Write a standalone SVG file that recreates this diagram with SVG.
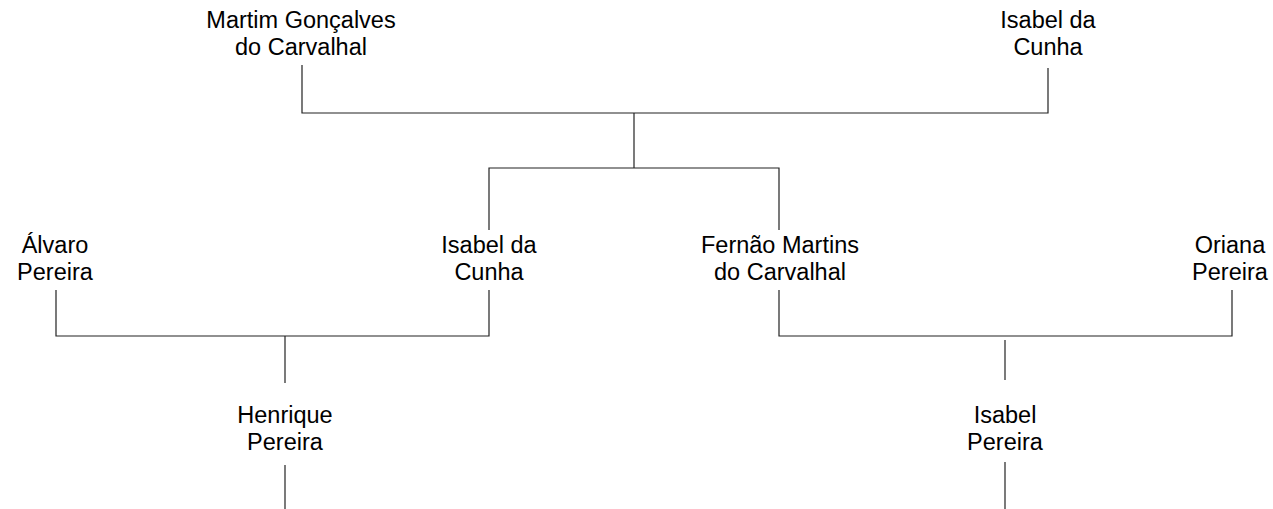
<svg xmlns="http://www.w3.org/2000/svg" width="1273" height="509" viewBox="0 0 1273 509">
<style>
text{font-family:"Liberation Sans",Arial,sans-serif;font-size:23.5px;fill:#000;text-anchor:middle}
.c path{fill:none;stroke:#222;stroke-width:1.2}
</style>
<rect width="1273" height="509" fill="#fff"/>
<g class="c" id="connectors">
<path d="M302 65V113H1048V68"/>
<path d="M634 113V168"/>
<path d="M489 230V168H779V230"/>
<path d="M56 290V336H489V290"/>
<path d="M285 336V383"/>
<path d="M779 290V336H1232V290"/>
<path d="M1005 340V380"/>
<path d="M285 465V509"/>
<path d="M1005 462V509"/>
</g>
<g id="martim"><text x="301" y="28">Martim Gonçalves</text><text x="301" y="55">do Carvalhal</text></g>
<g id="isabel1"><text x="1048" y="28">Isabel da</text><text x="1048" y="55">Cunha</text></g>
<g id="alvaro"><text x="55" y="253">Álvaro</text><text x="55" y="280">Pereira</text></g>
<g id="isabel2"><text x="489" y="253">Isabel da</text><text x="489" y="280">Cunha</text></g>
<g id="fernao"><text x="780" y="253">Fernão Martins</text><text x="780" y="280">do Carvalhal</text></g>
<g id="oriana"><text x="1230" y="253">Oriana</text><text x="1230" y="280">Pereira</text></g>
<g id="henrique"><text x="285" y="423">Henrique</text><text x="285" y="450">Pereira</text></g>
<g id="isabel3"><text x="1005" y="423">Isabel</text><text x="1005" y="450">Pereira</text></g>
</svg>
